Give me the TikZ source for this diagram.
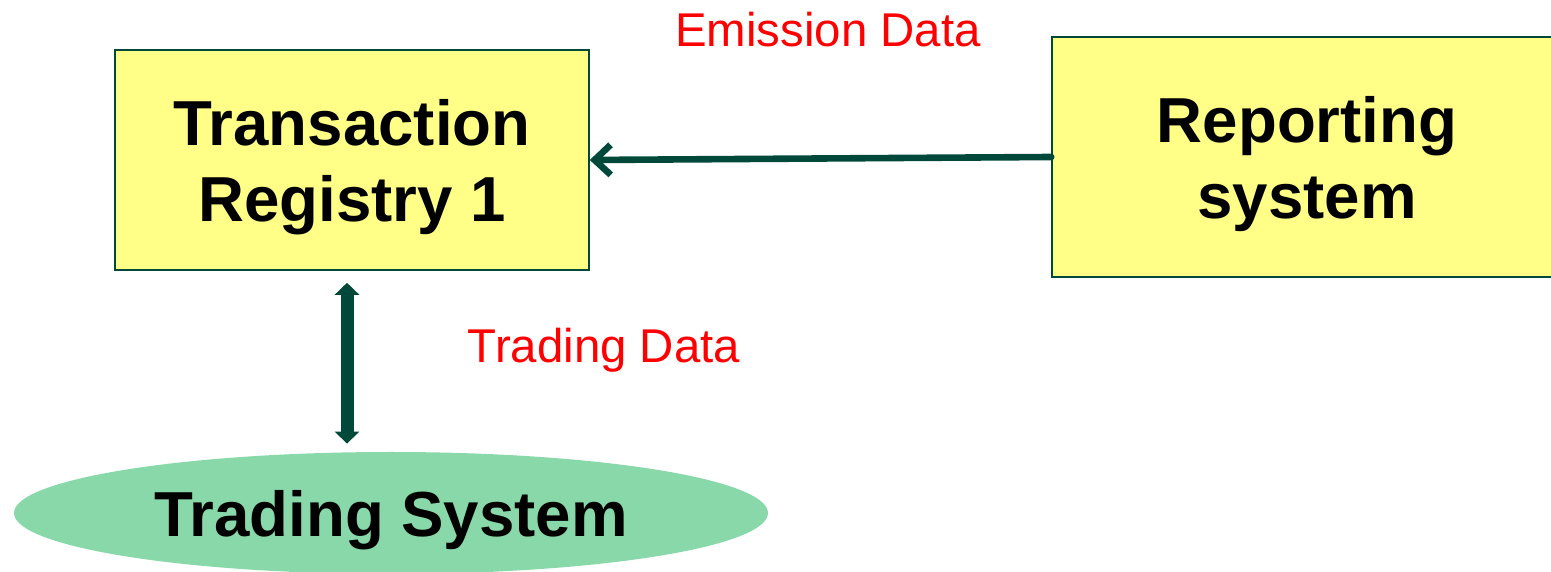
\documentclass[tikz,border=0pt]{standalone}
\usepackage{fontspec}
\setmainfont{Liberation Sans}
\usepackage{xcolor}
\usetikzlibrary{shapes.geometric, arrows.meta, positioning}

\definecolor{boxyellow}{RGB}{255,255,136}
\definecolor{darkline}{RGB}{0,72,58}
\definecolor{mintgreen}{RGB}{136,216,170}

\begin{document}
\begin{tikzpicture}[x=0.5pt, y=0.5pt]
            % Block styles
            \tikzstyle{block} = [rectangle, draw=darkline, line width=0.8pt, fill=boxyellow, align=center, text depth=0pt, font=\fontsize{31.8}{38}\selectfont\bfseries]
            \tikzstyle{flowlabel} = [text=red, font=\fontsize{23.7}{28}\selectfont]
            \useasboundingbox (0,0) rectangle (1551,572);
            % Systems
            \node[block, minimum width=237pt, minimum height=110pt] (registry) at (352,412) {Transaction\\Registry 1};
            \node[block, minimum width=255pt, minimum height=120pt] (reporting) at (1307,415) {Reporting\\system};
            \node[ellipse, fill=mintgreen, inner sep=0pt, minimum width=377pt, minimum height=61pt, text depth=0pt, font=\fontsize{31.8}{38}\selectfont\bfseries] (trading) at (391,59) {Trading System};
            % Labels
            \node[flowlabel] (emission) at (828,542) {Emission Data};
            \node[flowlabel] (tradingdata) at (604,222) {Trading Data};
            % Connections
            \draw[darkline, line width=3.3pt, line cap=round, -{Straight Barb[length=8pt, width=15pt]}] (reporting.west) -- (registry.east);
            \draw[darkline, line width=6.5pt, {Triangle[length=6pt, width=12pt]}-{Triangle[length=6pt, width=12pt]}, shorten <=6pt, shorten >=4pt] ([xshift=-2.5pt]registry.south) -- ([xshift=-2.5pt]registry.south |- trading.north);
        \end{tikzpicture}
\end{document}
